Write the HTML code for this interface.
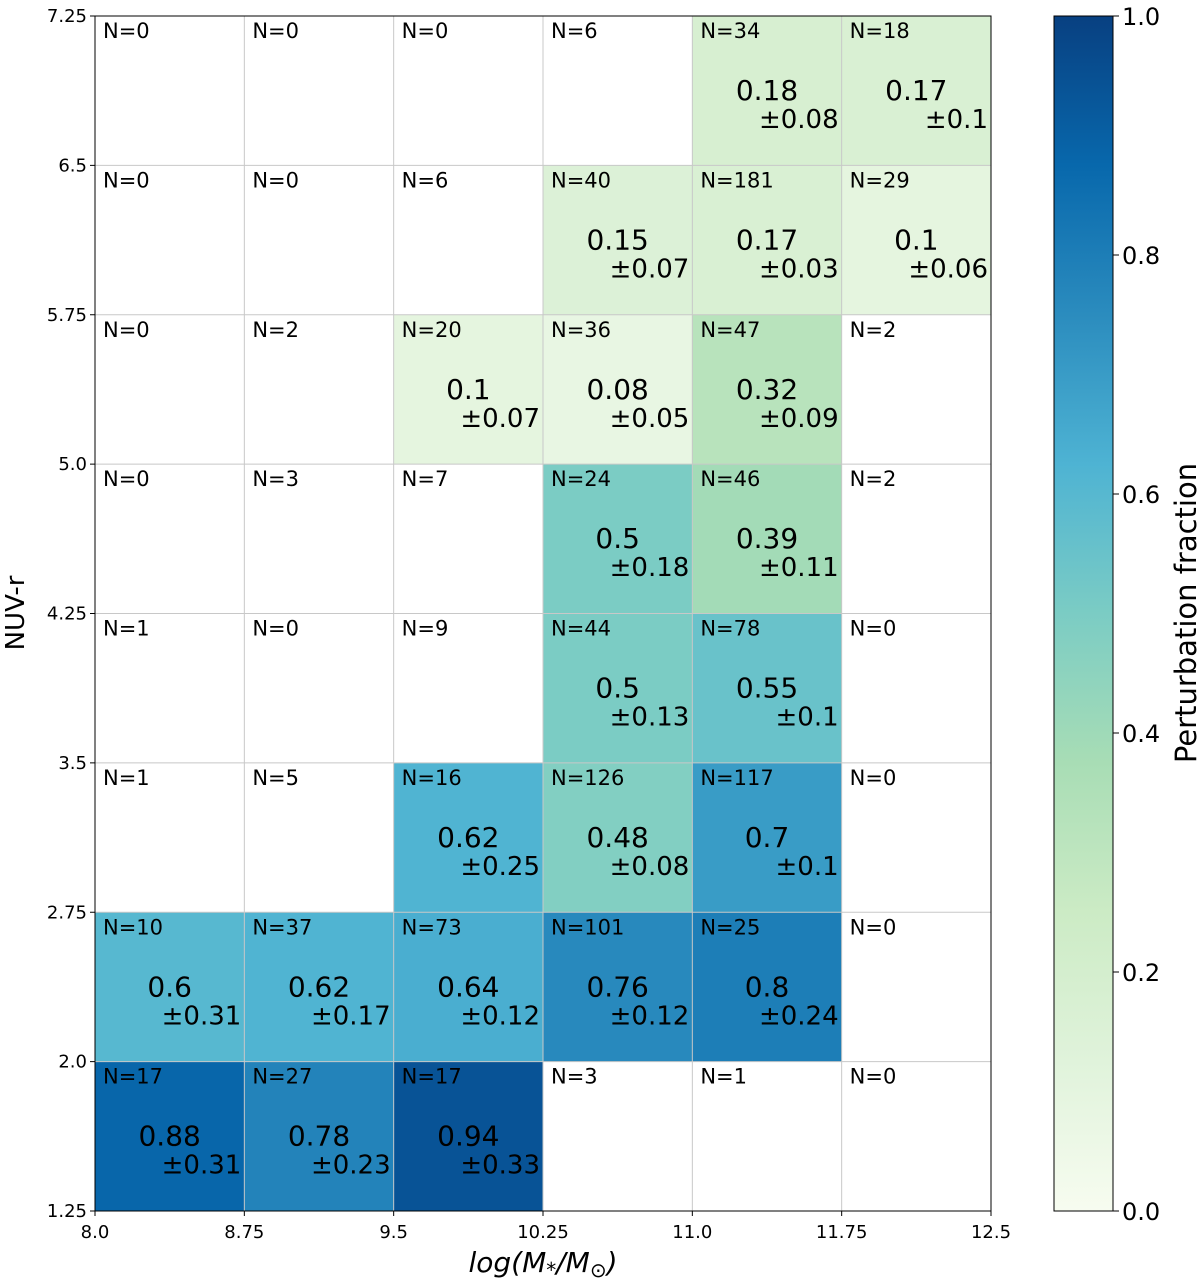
<!DOCTYPE html>
<html><head><meta charset="utf-8"><style>
html,body{margin:0;padding:0;background:#fff;}
svg{display:block;font-family:"DejaVu Sans","Liberation Sans",sans-serif;}
</style></head><body>
<svg id="chart" width="1200" height="1280">
<defs>
<linearGradient id="cbgrad" x1="0" y1="1" x2="0" y2="0">
<stop offset="0" stop-color="#f7fcf0"/><stop offset="0.125" stop-color="#e0f3db"/>
<stop offset="0.25" stop-color="#ccebc5"/><stop offset="0.375" stop-color="#a8ddb5"/>
<stop offset="0.5" stop-color="#7bccc4"/><stop offset="0.625" stop-color="#4eb3d3"/>
<stop offset="0.75" stop-color="#2b8cbe"/><stop offset="0.875" stop-color="#0868ac"/>
<stop offset="1" stop-color="#084081"/>
</linearGradient>
</defs>
</svg>
<script>
const xTicks=["8.0","8.75","9.5","10.25","11.0","11.75","12.5"];
const yTicks=["1.25","2.0","2.75","3.5","4.25","5.0","5.75","6.5","7.25"];
const cbTicks=[0,0.2,0.4,0.6,0.8,1.0];
// rows top (6.5-7.25) to bottom (1.25-2.0)
const counts=[[0,0,0,6,34,18],[0,0,6,40,181,29],[0,2,20,36,47,2],[0,3,7,24,46,2],[1,0,9,44,78,0],[1,5,16,126,117,0],[10,37,73,101,25,0],[17,27,17,3,1,0]];
const fracs=[[null,null,null,null,0.18,0.17],[null,null,null,0.15,0.17,0.1],[null,null,0.1,0.08,0.32,null],[null,null,null,0.5,0.39,null],[null,null,null,0.5,0.55,null],[null,null,0.62,0.48,0.7,null],[0.6,0.62,0.64,0.76,0.8,null],[0.88,0.78,0.94,null,null,null]];
const errs=[[null,null,null,null,0.08,0.1],[null,null,null,0.07,0.03,0.06],[null,null,0.07,0.05,0.09,null],[null,null,null,0.18,0.11,null],[null,null,null,0.13,0.1,null],[null,null,0.25,0.08,0.1,null],[0.31,0.17,0.12,0.12,0.24,null],[0.31,0.23,0.33,null,null,null]];

const L=95,R=991,T=16,B=1211;
const nC=6,nR=8,cw=(R-L)/nC,rh=(B-T)/nR;
const stops=["#f7fcf0","#e0f3db","#ccebc5","#a8ddb5","#7bccc4","#4eb3d3","#2b8cbe","#0868ac","#084081"];
function hex(h){return [1,3,5].map(i=>parseInt(h.substr(i,2),16));}
function cmap(v){const p=Math.max(0,Math.min(1,v))*8;const i=Math.min(7,Math.floor(p));const f=p-i;const a=hex(stops[i]),b=hex(stops[i+1]);return "rgb("+a.map((c,k)=>Math.round(c+(b[k]-c)*f)).join(",")+")";}
const svg=document.getElementById('chart');const NS="http://www.w3.org/2000/svg";
function el(t,at,txt){const e=document.createElementNS(NS,t);for(const k in at)e.setAttribute(k,at[k]);if(txt!==undefined)e.textContent=txt;svg.appendChild(e);return e;}
const xs=i=>L+i*cw, ys=j=>T+j*rh;
for(let r=0;r<nR;r++)for(let c=0;c<nC;c++){
 if(fracs[r][c]!==null){const e=el('rect',{x:xs(c),y:ys(r),width:cw,height:rh,fill:cmap(fracs[r][c])});
 
 }
}
for(let i=1;i<nC;i++){const e=el('line',{x1:xs(i),x2:xs(i),y1:T,y2:B,stroke:'#c8c8c8','stroke-width':1});}
for(let j=1;j<nR;j++){const e=el('line',{x1:L,x2:R,y1:ys(j),y2:ys(j),stroke:'#c8c8c8','stroke-width':1});}
for(let r=0;r<nR;r++)for(let c=0;c<nC;c++){
 const n=el('text',{x:xs(c)+8,y:ys(r)+22,'font-size':21,fill:'#000'},'N='+counts[r][c]);
 
 if(fracs[r][c]!==null){
  const f=el('text',{x:xs(c)+cw/2,y:ys(r)+84,'font-size':28,'text-anchor':'middle',fill:'#000'},String(fracs[r][c]));
  
  const e=el('text',{x:xs(c)+cw-3,y:ys(r)+112,'font-size':26,'text-anchor':'end',fill:'#000'},'±'+errs[r][c]);
  
 }
}
const fr=el('rect',{x:L,y:T,width:R-L,height:B-T,fill:'none',stroke:'#000','stroke-width':1});
xTicks.forEach((t,i)=>{el('line',{x1:xs(i),x2:xs(i),y1:B,y2:B+5,stroke:'#000'});const e=el('text',{x:xs(i),y:B+27,'font-size':18,'text-anchor':'middle'},t);});
yTicks.forEach((t,j)=>{const y=B-j*rh;el('line',{x1:L-5,x2:L,y1:y,y2:y,stroke:'#000'});const e=el('text',{x:L-8,y:y+6,'font-size':18,'text-anchor':'end'},t);});
let xt=el('text',{x:543,y:1272,'font-size':28,'text-anchor':'middle','font-style':'italic'});
xt.innerHTML='log(M<tspan font-size="20" dy="5">*</tspan><tspan dy="-5">/M</tspan><tspan font-size="20" dy="5">⊙</tspan><tspan dy="-5">)</tspan>';

const yt=el('text',{x:0,y:0,'font-size':26,'text-anchor':'middle',transform:'translate(24,613) rotate(-90)'},'NUV-r');

const cx=1054,cW=59;
const cb=el('rect',{x:cx,y:T,width:cW,height:B-T,fill:'url(#cbgrad)',stroke:'#000','stroke-width':1});

cbTicks.forEach(v=>{const y=B-v*(B-T);el('line',{x1:cx+cW,x2:cx+cW+6,y1:y,y2:y,stroke:'#000'});const e=el('text',{x:cx+cW+9,y:y+9,'font-size':24},v.toFixed(1));});
const ct=el('text',{x:0,y:0,'font-size':29,'text-anchor':'middle',transform:'translate(1196,613) rotate(-90)'},'Perturbation fraction');

</script>
</body></html>
